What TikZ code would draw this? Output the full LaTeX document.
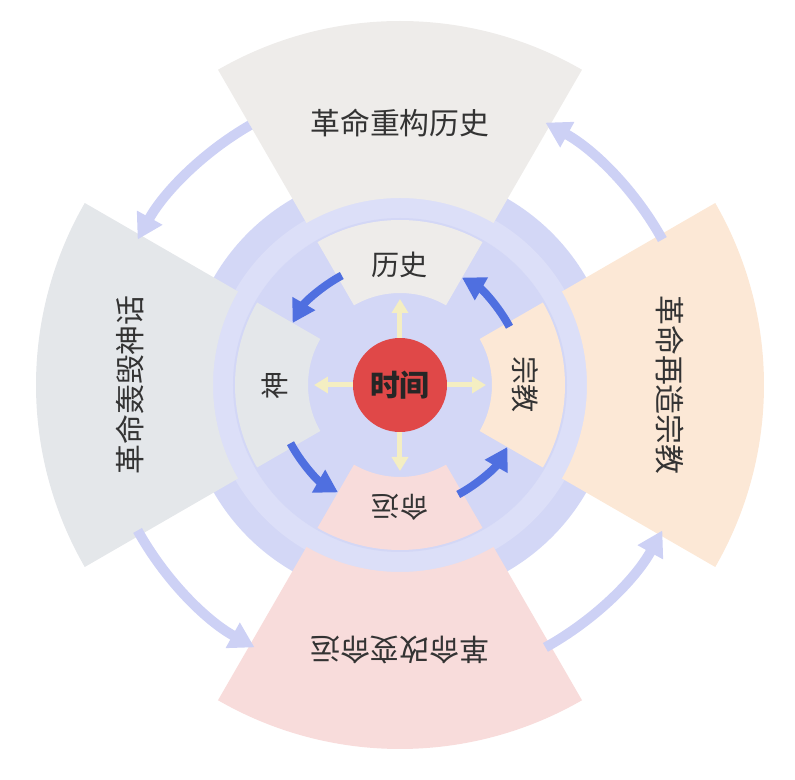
\documentclass[tikz,border=0pt]{standalone}
\usepackage{fontspec}
\newfontfamily\cjk{Noto Sans CJK SC}
\usetikzlibrary{arrows.meta}
\definecolor{disk}{HTML}{D3D7F6}
\definecolor{ring}{HTML}{DCDFF8}
\definecolor{cTop}{HTML}{EEECEA}
\definecolor{cLeft}{HTML}{E4E7EA}
\definecolor{cRight}{HTML}{FCE8D6}
\definecolor{cBot}{HTML}{F8DCDB}
\definecolor{cRed}{HTML}{E04848}
\definecolor{cBlue}{HTML}{4F6FE0}
\definecolor{cOut}{HTML}{CDD1F5}
\definecolor{cCream}{HTML}{F4EEC2}
\newcommand\mysect[5]{\fill[#5] (#1:#3) arc[start angle=#1,end angle=#2,radius=#3] -- (#2:#4) arc[start angle=#2,end angle=#1,radius=#4] -- cycle;}
\tikzset{
 big/.style={font=\cjk\fontsize{17pt}{17pt}\selectfont, text=black!80},
 small/.style={font=\cjk\fontsize{16pt}{16pt}\selectfont, text=black!80},
 outarr/.style={line width=10*0.02cm, cOut, -{Triangle[length=0.5cm,width=0.55cm]}},
 inarr/.style={line width=8*0.02cm, cBlue, -{Triangle[length=0.45cm,width=0.5cm]}},
 crarr/.style={line width=5*0.02cm, cCream, -{Triangle[length=0.28cm,width=0.32cm]}},
}
\begin{document}
\begin{tikzpicture}[x=0.02cm,y=0.02cm]
\useasboundingbox (-400,-395) rectangle (395,385);
\fill[disk] (0,0) circle[radius=215];
\fill[ring] (0,0) circle[radius=190];
\fill[disk] (0,0) circle[radius=167];
% outer sectors
\mysect{60}{120}{187}{364}{cTop}
\mysect{150}{210}{187}{364}{cLeft}
\mysect{-30}{30}{187}{364}{cRight}
\mysect{240}{300}{187}{364}{cBot}
% inner sectors
\mysect{60}{120}{92}{165}{cTop}
\mysect{150}{210}{92}{165}{cLeft}
\mysect{-30}{30}{92}{165}{cRight}
\mysect{240}{300}{92}{165}{cBot}
% outer arrows
\draw[outarr] (120:300) arc[start angle=120,end angle=151,radius=300];
\draw[outarr] (209:300) arc[start angle=209,end angle=241,radius=300];
\draw[outarr] (299:300) arc[start angle=299,end angle=331,radius=300];
\draw[outarr] (29:300) arc[start angle=29,end angle=61,radius=300];
% inner arrows
\draw[inarr] (118:124) arc[start angle=118,end angle=150,radius=124];
\draw[inarr] (208:124) arc[start angle=208,end angle=240,radius=124];
\draw[inarr] (298:124) arc[start angle=298,end angle=330,radius=124];
\draw[inarr] (28:124) arc[start angle=28,end angle=60,radius=124];
% center
\node[circle, fill=cRed, minimum size=94*0.02cm, inner sep=0, font=\cjk\bfseries\fontsize{17pt}{17pt}\selectfont, text=black!85] (c) at (0,0) {时间};
\coordinate (tU) at (90:86); \coordinate (tL) at (180:86);
\coordinate (tD) at (270:86); \coordinate (tR) at (0:86);
\draw[crarr] (c.north) -- (tU);
\draw[crarr] (c.west) -- (tL);
\draw[crarr] (c.south) -- (tD);
\draw[crarr] (c.east) -- (tR);
% texts
\node[big] (oT) at (90:262) {革命重构历史};
\node[big, rotate=90] (oL) at (180:270) {革命轰毁神话};
\node[big, rotate=-90] (oR) at (0:270) {革命再造宗教};
\node[big, rotate=180] (oB) at (270:265) {革命改变命运};
\node[small] (iT) at (90:120) {历史};
\node[small, rotate=90] (iL) at (180:125) {神};
\node[small, rotate=-90] (iR) at (0:125) {宗教};
\node[small, rotate=180] (iB) at (270:122) {命运};
\end{tikzpicture}
\end{document}
